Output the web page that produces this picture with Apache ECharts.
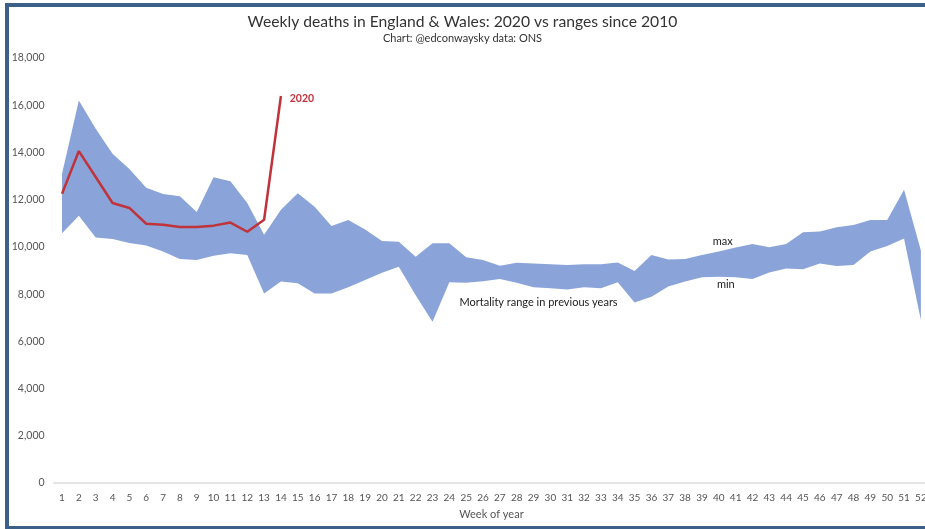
<!DOCTYPE html>
<html>
<head>
<meta charset="utf-8">
<script src="https://cdn.jsdelivr.net/npm/echarts@6/dist/echarts.min.js"></script>
<style>
  html, body { margin: 0; padding: 0; background: #ffffff; }
  #wrap { position: relative; width: 925px; height: 529px; overflow: hidden; }
  #chart { position: absolute; left: 0; top: 0; width: 925px; height: 529px; }
  #frame { position: absolute; left: 5px; top: 3px; width: 940px; height: 519px;
           border-top: 4px solid #3d6089; border-left: 4px solid #3d6089; border-bottom: 3px solid #3d6089;
           pointer-events: none; }
</style>
</head>
<body>
<div id="wrap">
  <div id="chart"></div>
  <div id="frame"></div>
</div>
<script>
const weeks = ['1','2','3','4','5','6','7','8','9','10','11','12','13','14','15','16','17','18','19','20','21','22','23','24','25','26','27','28','29','30','31','32','33','34','35','36','37','38','39','40','41','42','43','44','45','46','47','48','49','50','51','52'];

const maxDeaths = [13100,16200,15000,13950,13300,12500,12240,12140,11480,12950,12780,11860,10510,11570,12270,11700,10880,11140,10740,10250,10220,9580,10150,10150,9560,9440,9200,9330,9300,9260,9230,9270,9270,9340,8980,9660,9470,9490,9660,9810,9970,10120,9980,10120,10620,10650,10830,10930,11140,11140,12420,9850];

const minDeaths = [10580,11320,10400,10330,10160,10060,9800,9490,9450,9630,9730,9660,8030,8530,8460,8030,8030,8290,8600,8910,9160,7950,6830,8500,8480,8550,8640,8480,8290,8250,8200,8290,8250,8500,7650,7890,8320,8530,8710,8740,8710,8640,8920,9090,9050,9300,9190,9230,9800,10040,10360,6900];

const deaths2020 = [12254,14058,12960,11860,11650,10980,10940,10840,10840,10900,11030,10640,11150,16390];

const yTicks = { min: 0, max: 18000, step: 2000 };

const rangeSpan = maxDeaths.map((v, i) => v - minDeaths[i]);

const FONT = 'Lato, "Open Sans", sans-serif';
const chart = echarts.init(document.getElementById('chart'), null, { renderer: 'canvas' });

chart.setOption({
  animation: false,
  backgroundColor: '#ffffff',
  title: {
    text: 'Weekly deaths in England & Wales: 2020 vs ranges since 2010',
    subtext: 'Chart: @edconwaysky data: ONS',
    left: 'center',
    top: 9,
    itemGap: 3,
    padding: [5, 0, 5, 22],
    textStyle: { fontFamily: FONT, fontSize: 15.7, fontWeight: 'normal', color: '#333333' },
    subtextStyle: { fontFamily: FONT, fontSize: 11, color: '#333333' }
  },
  grid: { left: 53.6, right: -4.3, top: 58, bottom: 46, containLabel: false, outerBoundsMode: 'none' },
  xAxis: {
    type: 'category',
    data: weeks,
    boundaryGap: true,
    axisLine: { show: true, lineStyle: { color: '#dcdcdc', width: 1.5 } },
    axisTick: { show: false },
    axisLabel: { interval: 0, fontFamily: FONT, fontSize: 10, color: '#555555', margin: 10 },
    splitLine: { show: false },
    name: 'Week of year',
    nameLocation: 'middle',
    nameGap: 26,
    nameTextStyle: { fontFamily: FONT, fontSize: 11, color: '#555555' }
  },
  yAxis: {
    type: 'value',
    min: yTicks.min,
    max: yTicks.max,
    interval: yTicks.step,
    axisLine: { show: false },
    axisTick: { show: false },
    splitLine: { show: false },
    axisLabel: {
      fontFamily: FONT, fontSize: 10.5, color: '#555555', margin: 9,
      formatter: v => v.toLocaleString('en-US')
    }
  },
  series: [
    {
      name: 'min',
      type: 'line',
      stack: 'range',
      data: minDeaths,
      symbol: 'none',
      lineStyle: { opacity: 0 },
      silent: true
    },
    {
      name: 'range',
      type: 'line',
      stack: 'range',
      data: rangeSpan,
      symbol: 'none',
      lineStyle: { opacity: 0 },
      areaStyle: { color: '#8aa4d9', opacity: 1 },
      silent: true
    },
    {
      name: '2020',
      type: 'line',
      data: deaths2020,
      symbol: 'none',
      z: 5,
      lineStyle: { color: '#c0333b', width: 2.5 },
      markPoint: {
        symbol: 'rect',
        symbolSize: 1,
        itemStyle: { color: 'rgba(0,0,0,0)' },
        label: { show: true, position: 'inside', fontFamily: FONT, fontSize: 11, color: '#222222' },
        data: [
          { coord: ['14', 16300], value: '2020',
            label: { formatter: '2020', offset: [21, 0], color: '#c0333b', fontWeight: 'bold', fontSize: 10.5 } },
          { coord: ['40', 10250], value: 'max', label: { formatter: 'max', offset: [4, 0] } },
          { coord: ['40', 8430], value: 'min', label: { formatter: 'min', offset: [7, 0] } },
          { coord: ['29', 7665], value: 'Mortality range in previous years',
            label: { formatter: 'Mortality range in previous years', offset: [5, 0] } }
        ]
      }
    }
  ]
});
</script>
</body>
</html>
